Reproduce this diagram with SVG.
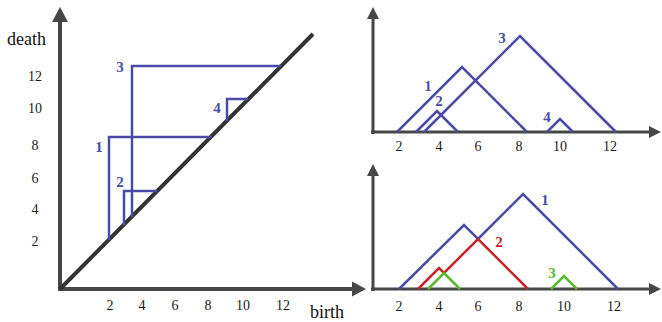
<svg xmlns="http://www.w3.org/2000/svg" width="662" height="322" viewBox="0 0 662 322">
<style>
.ax{stroke:#474747;fill:none;stroke-width:4}
.axs{stroke:#474747;fill:none;stroke-width:3}
.ah{fill:#474747}
.b{stroke:#4b4ba6;fill:none;stroke-width:2.5}
.r{stroke:#c3262a;fill:none;stroke-width:2.5}
.g{stroke:#5cb82c;fill:none;stroke-width:2.5}
text{font-family:"Liberation Serif","DejaVu Serif",serif}
.t{font-size:14px;fill:#1a1a1a;text-anchor:middle}
.lbl{font-size:18px;fill:#111}
.n{font-size:15px;font-weight:bold;text-anchor:middle}
.nb{fill:#4b4ba6}.nr{fill:#c3262a}.ng{fill:#5cb82c}
</style>
<rect width="662" height="322" fill="#fff"/>
<g id="diagram-left">
  <g id="axes-left">
    <line class="ax" x1="60" y1="291" x2="60" y2="20"/>
    <polygon class="ah" points="60,7 52,22 68,22"/>
    <line class="ax" x1="58" y1="289" x2="354" y2="289"/>
    <polygon class="ah" points="366,289 352,281.5 352,296.5"/>
    <line stroke="#333" stroke-width="4" x1="60" y1="289" x2="313" y2="34"/>
    <text class="lbl" x="7" y="45">death</text>
    <text class="lbl" x="310" y="318">birth</text>
    <text class="t" x="35" y="81">12</text>
    <text class="t" x="35" y="113">10</text>
    <text class="t" x="35" y="150">8</text>
    <text class="t" x="35" y="183">6</text>
    <text class="t" x="35" y="214">4</text>
    <text class="t" x="35" y="246">2</text>
    <text class="t" x="110" y="310">2</text>
    <text class="t" x="142" y="310">4</text>
    <text class="t" x="175" y="310">6</text>
    <text class="t" x="208" y="310">8</text>
    <text class="t" x="243" y="310">10</text>
    <text class="t" x="283" y="310">12</text>
  </g>
  <g id="box-1"><path class="b" d="M109,240 V137 H212"/><text class="n nb" x="99" y="152">1</text></g>
  <g id="box-2"><path class="b" d="M124,225 V191 H157"/><text class="n nb" x="120" y="187">2</text></g>
  <g id="box-3"><path class="b" d="M132,217 V66 H281"/><text class="n nb" x="120" y="72">3</text></g>
  <g id="box-4"><path class="b" d="M227,121 V99 H248"/><text class="n nb" x="217" y="113">4</text></g>
</g>
<g id="diagram-top-right">
  <g id="axes-top">
    <line class="axs" x1="373" y1="134" x2="373" y2="18"/>
    <polygon class="ah" points="373,7 367,19 379,19"/>
    <line class="axs" x1="371" y1="132" x2="651" y2="132"/>
    <polygon class="ah" points="661,132 649,126 649,138"/>
    <text class="t" x="399" y="151">2</text>
    <text class="t" x="439" y="151">4</text>
    <text class="t" x="478" y="151">6</text>
    <text class="t" x="519" y="151">8</text>
    <text class="t" x="560" y="151">10</text>
    <text class="t" x="610" y="151">12</text>
  </g>
  <g id="tri-1"><polyline class="b" points="397,132 462,67 527,132"/><text class="n nb" x="428" y="91">1</text></g>
  <g id="tri-2"><polyline class="b" points="416,132 437,111 458,132"/><text class="n nb" x="439" y="106">2</text></g>
  <g id="tri-3"><polyline class="b" points="424,132 520,36 616,132"/><text class="n nb" x="502" y="43">3</text></g>
  <g id="tri-4"><polyline class="b" points="547,132 560,119 573,132"/><text class="n nb" x="547" y="122">4</text></g>
</g>
<g id="diagram-bottom-right">
  <g id="axes-bottom">
    <line class="axs" x1="373" y1="291" x2="373" y2="176"/>
    <polygon class="ah" points="373,164 367,176 379,176"/>
    <line class="axs" x1="371" y1="289" x2="651" y2="289"/>
    <polygon class="ah" points="661,289 649,283 649,295"/>
    <text class="t" x="399" y="311">2</text>
    <text class="t" x="439" y="311">4</text>
    <text class="t" x="478" y="311">6</text>
    <text class="t" x="519" y="311">8</text>
    <text class="t" x="564" y="311">10</text>
    <text class="t" x="614" y="311">12</text>
  </g>
  <g id="landscape-1"><polyline class="b" points="399,289 464,225 478,239 523,194 618,289"/><text class="n nb" x="545" y="205">1</text></g>
  <g id="landscape-2"><polyline class="r" points="418,289 439,268 444,273 478,239 528,289"/><text class="n nr" x="499" y="247">2</text></g>
  <g id="landscape-3"><polyline class="g" points="428,289 444,273 460,289"/><polyline class="g" points="551,289 564,276 577,289"/><text class="n ng" x="552" y="278">3</text></g>
</g>
</svg>
